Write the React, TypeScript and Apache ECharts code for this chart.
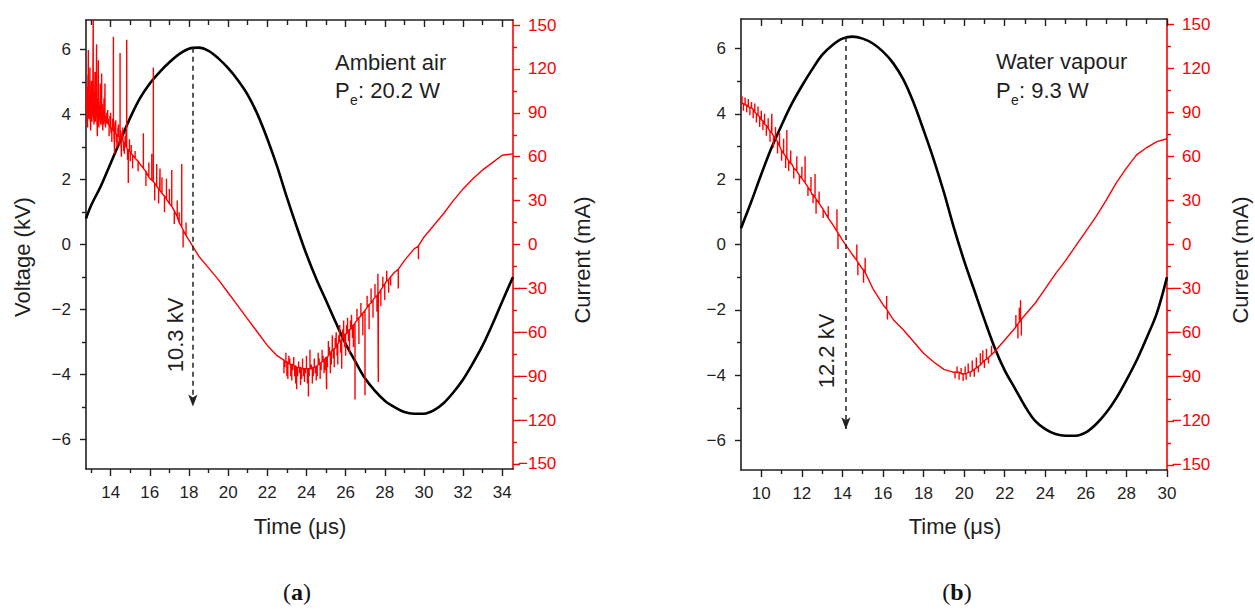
import React, { useEffect, useRef } from "react";
import * as echarts from "echarts";

const FONT = "'Liberation Sans', Arial, sans-serif";
const SERIF = "'Liberation Serif', 'DejaVu Serif', serif";
const INK = "#1f1f1f";
const RED = "#ff0000";

// ---------- axis ranges & tick labels ----------
const X_A = { min: 12.74, max: 34.55 };
const X_B = { min: 9, max: 30 };
const V_RANGE = { min: -6.9, max: 6.9 };
const I_RANGE = { min: -153.5, max: 153.5 };

const xMajorA = [14, 16, 18, 20, 22, 24, 26, 28, 30, 32, 34];
const xMinorA = [13, 15, 17, 19, 21, 23, 25, 27, 29, 31, 33];
const xMajorB = [10, 12, 14, 16, 18, 20, 22, 24, 26, 28, 30];
const xMinorB = [11, 13, 15, 17, 19, 21, 23, 25, 27, 29];
const vMajor = [-6, -4, -2, 0, 2, 4, 6];
const vMinor = [-5, -3, -1, 1, 3, 5];
const iMajor = [-150, -120, -90, -60, -30, 0, 30, 60, 90, 120, 150];
const iLabelsPos = [0, 30, 60, 90, 120, 150];
const iLabelsNeg = [-150, -120, -90, -60, -30];
const iMinor = [-135, -105, -75, -45, -15, 15, 45, 75, 105, 135];

// ---------- (a) Ambient air ----------
const voltTimeA = [12.74, 13, 13.5, 14, 14.5, 15, 15.5, 16, 16.5, 17, 17.5, 18, 18.5, 19, 19.5, 20, 20.5, 21, 21.5, 22, 22.5, 23, 23.5, 24, 24.5, 25, 25.5, 26, 26.5, 27, 27.5, 28, 28.5, 29, 29.5, 30, 30.5, 31, 31.5, 32, 32.5, 33, 33.5, 34, 34.55];
const voltA = [0.8, 1.2, 1.8, 2.5, 3.2, 3.9, 4.5, 4.95, 5.3, 5.6, 5.85, 6.02, 6.05, 5.95, 5.72, 5.42, 5.05, 4.6, 4.0, 3.25, 2.4, 1.45, 0.55, -0.3, -1.05, -1.72, -2.4, -3.05, -3.6, -4.12, -4.5, -4.8, -5.0, -5.15, -5.2, -5.2, -5.1, -4.88, -4.55, -4.15, -3.65, -3.1, -2.45, -1.75, -1.0];
const currTimeA = voltTimeA;
const currA = [92, 90, 86, 80, 73, 63, 55, 45, 37, 28, 15, 3, -8, -16, -24, -33, -42, -51, -60, -69, -76, -81, -84, -85, -83, -77, -70, -61, -53, -45, -36, -27, -19, -11, -3, 5, 13, 21, 30, 38, 45, 51, 56, 61, 62];
// spikes: [time, foot, tip]
const spikesA = [
  [12.76, 92, 100], [12.78, 92, 108], [12.8, 92, 84], [12.82, 91, 80], [12.84, 91, 116], [12.86, 91, 133], [12.88, 91, 86], [12.9, 91, 100], [12.92, 90, 104], [12.94, 90, 121], [12.96, 90, 84], [12.98, 90, 78], [13.0, 90, 102], [13.02, 90, 112], [13.04, 89, 84], [13.06, 89, 96], [13.08, 89, 110], [13.11, 89, 158], [13.13, 89, 86], [13.15, 89, 82], [13.17, 88, 104], [13.2, 88, 118], [13.22, 88, 84], [13.24, 88, 100], [13.26, 88, 112], [13.28, 88, 137], [13.3, 87, 82], [13.32, 87, 74], [13.35, 87, 100], [13.37, 87, 126], [13.4, 87, 80], [13.42, 87, 95], [13.45, 86, 98], [13.47, 86, 110], [13.5, 86, 82], [13.54, 86, 117], [13.57, 85, 96], [13.6, 85, 78], [13.63, 85, 82], [13.66, 85, 100], [13.69, 84, 94], [13.71, 84, 110], [13.74, 84, 80], [13.76, 84, 88], [13.8, 83, 90],
  [13.85, 83, 92], [13.88, 82, 86], [13.92, 82, 74], [13.96, 81, 88], [14.0, 80, 90], [14.03, 80, 76], [14.06, 79, 70], [14.1, 79, 86], [14.14, 78, 142], [14.17, 77, 72], [14.2, 77, 62], [14.23, 77, 84], [14.26, 76, 85], [14.3, 75, 70], [14.33, 75, 66], [14.37, 74, 80], [14.4, 74, 82], [14.44, 73, 68], [14.48, 73, 131], [14.52, 72, 78], [14.55, 72, 60], [14.58, 71, 76], [14.62, 71, 80], [14.66, 70, 64], [14.7, 69, 62], [14.74, 68, 74], [14.78, 67, 77], [14.82, 66, 140], [14.86, 65, 58], [14.9, 65, 42], [14.96, 64, 72], [15.0, 63, 57], [15.05, 62, 68], [15.12, 61, 52],
  [15.25, 59, 64], [15.4, 57, 50], [15.67, 52, 76], [15.8, 50, 40], [15.95, 46, 56], [16.1, 44, 62], [16.18, 43, 121], [16.25, 42, 30], [16.35, 40, 55], [16.45, 38, 28], [16.52, 37, 52], [16.62, 35, 46], [16.75, 33, 22], [16.85, 31, 45], [17.0, 28, 38], [17.12, 26, 51], [17.25, 23, 14], [17.4, 19, 30], [17.5, 15, 22], [17.63, 12, 55], [17.7, 10, -2], [17.85, 6, 15],
  [22.85, -79, -88], [22.9, -80, -84], [22.95, -80, -74], [23.0, -80, -90], [23.05, -81, -92], [23.1, -81, -76], [23.15, -82, -78], [23.2, -82, -90], [23.25, -82, -93], [23.3, -82, -86], [23.35, -83, -77], [23.4, -83, -90], [23.45, -83, -95], [23.5, -84, -99], [23.55, -84, -90], [23.6, -84, -80], [23.65, -84, -88], [23.7, -84, -96], [23.75, -85, -92], [23.8, -85, -78], [23.85, -85, -90], [23.9, -85, -94], [23.95, -85, -88], [24.0, -85, -76], [24.05, -85, -95], [24.1, -85, -104], [24.14, -85, -90], [24.18, -85, -72], [24.25, -85, -82], [24.3, -84, -95], [24.35, -84, -90], [24.4, -84, -78], [24.45, -84, -88], [24.5, -83, -93], [24.55, -83, -90], [24.6, -82, -74], [24.65, -82, -78], [24.7, -81, -92], [24.75, -81, -86], [24.8, -80, -72], [24.85, -80, -76], [24.9, -79, -88], [24.95, -78, -86], [25.03, -77, -99], [25.07, -77, -84], [25.12, -76, -66], [25.17, -75, -70], [25.22, -74, -88], [25.27, -73, -82], [25.32, -72, -62], [25.37, -72, -78], [25.42, -71, -84], [25.47, -71, -64], [25.52, -70, -60], [25.56, -69, -76], [25.6, -68, -82], [25.65, -67, -62], [25.7, -66, -55], [25.75, -66, -74], [25.8, -65, -85], [25.85, -64, -58], [25.9, -63, -52], [25.95, -62, -70], [26.0, -61, -76], [26.05, -61, -55], [26.1, -60, -50], [26.15, -59, -66], [26.2, -58, -74], [26.25, -58, -52], [26.3, -57, -48], [26.35, -56, -64], [26.4, -55, -70], [26.48, -54, -106], [26.58, -52, -44], [26.68, -50, -68], [26.78, -49, -40], [26.88, -47, -62], [26.99, -45, -103], [27.1, -43, -35], [27.2, -41, -58], [27.3, -40, -30], [27.4, -38, -50], [27.5, -36, -27], [27.6, -35, -46], [27.65, -34, -20], [27.67, -34, -94], [27.8, -31, -42], [27.9, -29, -22], [28.0, -27, -38], [28.1, -25, -18], [28.2, -24, -33], [28.3, -22, -28], [28.69, -17, -30], [29.72, -1, -10],
];
const arrowA = { t: 18.2, from: 6.05, to: -4.98 };

// ---------- (b) Water vapour ----------
const voltTimeB = [9, 9.5, 10, 10.5, 11, 11.5, 12, 12.5, 13, 13.5, 14, 14.5, 15, 15.5, 16, 16.5, 17, 17.5, 18, 18.5, 19, 19.5, 20, 20.5, 21, 21.5, 22, 22.5, 23, 23.5, 24, 24.5, 25, 25.5, 26, 26.5, 27, 27.5, 28, 28.5, 29, 29.5, 30];
const voltB = [0.5, 1.3, 2.15, 2.95, 3.65, 4.3, 4.85, 5.35, 5.8, 6.1, 6.3, 6.36, 6.3, 6.15, 5.9, 5.55, 5.05, 4.35, 3.5, 2.6, 1.6, 0.5, -0.5, -1.4, -2.3, -3.15, -3.85, -4.4, -4.95, -5.4, -5.65, -5.8, -5.85, -5.85, -5.75, -5.5, -5.15, -4.7, -4.15, -3.55, -2.85, -2.1, -1.0];
const currTimeB = voltTimeB;
const currB = [96, 93, 85, 76, 64, 55, 45, 34, 25, 14, 3, -7, -17, -30, -41, -51, -58, -66, -74, -80, -85, -87, -88, -85, -79, -73, -65, -57, -48, -40, -30, -20, -11, -1, 9, 19, 30, 42, 52, 61, 66, 70, 72];
const spikesB = [
  [9.05, 96, 101], [9.12, 96, 91], [9.2, 95, 100], [9.28, 95, 90], [9.36, 94, 99], [9.44, 93, 88], [9.52, 93, 97], [9.6, 92, 86], [9.68, 90, 96], [9.76, 89, 83], [9.84, 88, 94], [9.92, 87, 80], [10.0, 85, 91], [10.08, 84, 78], [10.16, 82, 89], [10.25, 81, 74], [10.34, 79, 86], [10.43, 77, 70], [10.52, 76, 89], [10.6, 74, 66], [10.7, 72, 80], [10.8, 70, 62], [10.9, 67, 76], [11.0, 64, 57], [11.1, 62, 72], [11.2, 60, 52], [11.26, 59, 78], [11.35, 57, 50], [11.45, 55, 64], [11.6, 52, 45], [11.75, 50, 60], [11.88, 47, 41], [12.0, 45, 53], [12.16, 42, 60], [12.3, 39, 33], [12.45, 36, 46], [12.55, 34, 28], [12.65, 32, 48], [12.7, 31, 21], [12.85, 28, 36], [13.05, 24, 18], [13.3, 18, 26], [13.73, 9, 24], [13.78, 8, -3], [14.71, -11, 0], [14.76, -12, -21], [15.04, -17, -26], [15.12, -19, -9], [16.18, -44, -35], [16.22, -45, -51],
  [19.55, -87, -91], [19.65, -87, -83], [19.75, -87, -92], [19.85, -88, -84], [19.95, -88, -93], [20.05, -88, -83], [20.1, -88, -92], [20.2, -87, -81], [20.3, -87, -90], [20.4, -86, -79], [20.5, -85, -90], [20.6, -84, -77], [20.7, -83, -87], [20.8, -82, -74], [20.92, -80, -72], [21.0, -79, -84], [21.1, -78, -71], [21.2, -77, -81], [21.35, -75, -69],
  [22.55, -56, -48], [22.65, -54, -64], [22.72, -53, -43], [22.78, -52, -38], [22.82, -51, -62],
];
const arrowB = { t: 14.17, from: 6.35, to: -5.65 };

function pairs(ts: number[], vs: number[]) {
  return ts.map((t, i) => [t, vs[i]]);
}

function buildTrace(ts: number[], vs: number[], spikes: number[][]) {
  const items: { t: number; seq: number[][] }[] = ts.map((t, i) => ({ t, seq: [[t, vs[i]]] }));
  spikes.forEach((s) => items.push({ t: s[0], seq: [[s[0], s[1]], [s[0], s[2]], [s[0], s[1]]] }));
  items.sort((a, b) => a.t - b.t);
  const out: number[][] = [];
  items.forEach((it) => it.seq.forEach((p) => out.push(p)));
  return out;
}

const minus = (v: number) => (v < 0 ? "\u2212" + Math.abs(v) : String(v));

function xAxesFor(gridIndex: number, range: { min: number; max: number }, major: number[], minor: number[]) {
  const base = {
    type: "value",
    gridIndex,
    min: range.min,
    max: range.max,
    splitLine: { show: false },
  };
  const tickStyle = { color: INK, width: 1.4 };
  return [
    {
      ...base,
      position: "bottom",
      axisLine: { show: true, onZero: false, lineStyle: { color: INK, width: 1.6 } },
      axisTick: { show: true, customValues: major, length: 7, inside: false, lineStyle: tickStyle },
      axisLabel: { show: true, customValues: major, margin: 15, fontSize: 17, color: INK, fontFamily: FONT },
    },
    {
      ...base,
      position: "bottom",
      axisLine: { show: false, onZero: false },
      axisTick: { show: true, customValues: minor, length: 4, inside: false, lineStyle: tickStyle },
      axisLabel: { show: false },
    },
    {
      ...base,
      position: "top",
      axisLine: { show: true, onZero: false, lineStyle: { color: INK, width: 1.6 } },
      axisTick: { show: true, customValues: major, length: 7, inside: true, lineStyle: tickStyle },
      axisLabel: { show: false },
    },
    {
      ...base,
      position: "top",
      axisLine: { show: false, onZero: false },
      axisTick: { show: true, customValues: minor, length: 5, inside: true, lineStyle: tickStyle },
      axisLabel: { show: false },
    },
  ];
}

function yAxesFor(gridIndex: number) {
  const vBase = { type: "value", gridIndex, min: V_RANGE.min, max: V_RANGE.max, splitLine: { show: false } };
  const iBase = { type: "value", gridIndex, min: I_RANGE.min, max: I_RANGE.max, splitLine: { show: false } };
  return [
    {
      ...vBase,
      position: "left",
      axisLine: { show: true, onZero: false, lineStyle: { color: INK, width: 1.6 } },
      axisTick: { show: true, customValues: vMajor, length: 6, lineStyle: { color: INK, width: 1.4 } },
      axisLabel: { show: true, customValues: vMajor, margin: 15, fontSize: 17, color: INK, fontFamily: FONT, formatter: minus },
    },
    {
      ...vBase,
      position: "left",
      axisLine: { show: false, onZero: false },
      axisTick: { show: true, customValues: vMinor, length: 4, lineStyle: { color: INK, width: 1.4 } },
      axisLabel: { show: false },
    },
    {
      ...iBase,
      position: "right",
      axisLine: { show: true, onZero: false, lineStyle: { color: RED, width: 1.6 } },
      axisTick: { show: true, customValues: iMajor, length: 7, lineStyle: { color: RED, width: 1.4 } },
      axisLabel: { show: true, customValues: iLabelsPos, margin: 15, fontSize: 17, color: RED, fontFamily: FONT, formatter: minus },
    },
    {
      ...iBase,
      position: "right",
      axisLine: { show: false, onZero: false },
      axisTick: { show: true, customValues: iMinor, length: 4, lineStyle: { color: RED, width: 1.4 } },
      axisLabel: { show: true, customValues: iLabelsNeg, margin: 5, fontSize: 17, color: RED, fontFamily: FONT, formatter: minus },
    },
  ];
}

function arrowMark(a: { t: number; from: number; to: number }) {
  return {
    silent: true,
    symbol: ["none", "arrow"],
    symbolSize: [7, 12],
    label: { show: false },
    lineStyle: { type: [5, 4], color: "#222", width: 1.5 },
    emphasis: { disabled: true },
    data: [[{ coord: [a.t, a.from] }, { coord: [a.t, a.to] }]],
  };
}

function txt(x: number, y: number, text: string, opts: any = {}) {
  return {
    type: "text",
    x,
    y,
    rotation: opts.rotation || 0,
    silent: true,
    style: {
      text,
      fontSize: opts.fontSize || 22,
      fontFamily: opts.fontFamily || FONT,
      fill: opts.fill || INK,
      align: opts.align || "center",
      verticalAlign: "middle",
    },
  };
}

function paren(x: number, y: number, letter: string) {
  return {
    type: "text",
    x,
    y,
    silent: true,
    style: {
      text: "{p|(}{b|" + letter + "}{p|)}",
      align: "center",
      verticalAlign: "middle",
      rich: {
        p: { fontFamily: SERIF, fontSize: 24, fill: "#111" },
        b: { fontFamily: SERIF, fontSize: 24, fontWeight: "bold", fill: "#111" },
      },
    },
  };
}

export default function App() {
  const ref = useRef<HTMLDivElement>(null);
  useEffect(() => {
    if (!ref.current) return;
    const chart = echarts.init(ref.current, undefined, { renderer: "svg" });
    const R90 = Math.PI / 2;
    const voltStyle = { color: "#000", width: 2.6 };
    const currStyle = { color: RED, width: 1.4 };
    const option: any = {
      animation: false,
      backgroundColor: "#ffffff",
      grid: [
        { left: 86, top: 20, width: 427, height: 449 },
        { left: 741, top: 19, width: 426, height: 451 },
      ],
      xAxis: [...xAxesFor(0, X_A, xMajorA, xMinorA), ...xAxesFor(1, X_B, xMajorB, xMinorB)],
      yAxis: [...yAxesFor(0), ...yAxesFor(1)],
      series: [
        {
          type: "line",
          xAxisIndex: 0,
          yAxisIndex: 0,
          data: pairs(voltTimeA, voltA),
          symbol: "none",
          smooth: 0.35,
          lineStyle: voltStyle,
          z: 2,
          silent: true,
          markLine: arrowMark(arrowA),
        },
        {
          type: "line",
          xAxisIndex: 0,
          yAxisIndex: 2,
          data: buildTrace(currTimeA, currA, spikesA),
          symbol: "none",
          lineStyle: currStyle,
          z: 3,
          silent: true,
        },
        {
          type: "line",
          xAxisIndex: 4,
          yAxisIndex: 4,
          data: pairs(voltTimeB, voltB),
          symbol: "none",
          smooth: 0.35,
          lineStyle: voltStyle,
          z: 2,
          silent: true,
          markLine: arrowMark(arrowB),
        },
        {
          type: "line",
          xAxisIndex: 4,
          yAxisIndex: 6,
          data: buildTrace(currTimeB, currB, spikesB),
          symbol: "none",
          lineStyle: currStyle,
          z: 3,
          silent: true,
        },
      ],
      graphic: [
        txt(22.5, 257, "Voltage (kV)", { rotation: R90 }),
        txt(582, 260, "Current (mA)", { rotation: R90 }),
        txt(300, 526, "Time (\u03bcs)"),
        txt(175, 335, "10.3 kV", { rotation: R90 }),
        txt(335, 62, "Ambient air", { align: "left" }),
        txt(335, 90, "P", { align: "left" }),
        txt(350, 100, "e", { align: "left", fontSize: 14 }),
        txt(358, 90, ": 20.2 W", { align: "left" }),
        paren(297, 592, "a"),

        txt(1240, 260, "Current (mA)", { rotation: R90 }),
        txt(955, 526, "Time (\u03bcs)"),
        txt(826, 351, "12.2 kV", { rotation: R90 }),
        txt(996, 61, "Water vapour", { align: "left" }),
        txt(996, 90, "P", { align: "left" }),
        txt(1011, 100, "e", { align: "left", fontSize: 14 }),
        txt(1019, 90, ": 9.3 W", { align: "left" }),
        paren(957, 592, "b"),
      ],
    };
    chart.setOption(option);
    return () => chart.dispose();
  }, []);
  return (
    <div
      ref={ref}
      style={{ position: "fixed", left: 0, top: 0, width: 1255, height: 611, background: "#fff" }}
    />
  );
}
